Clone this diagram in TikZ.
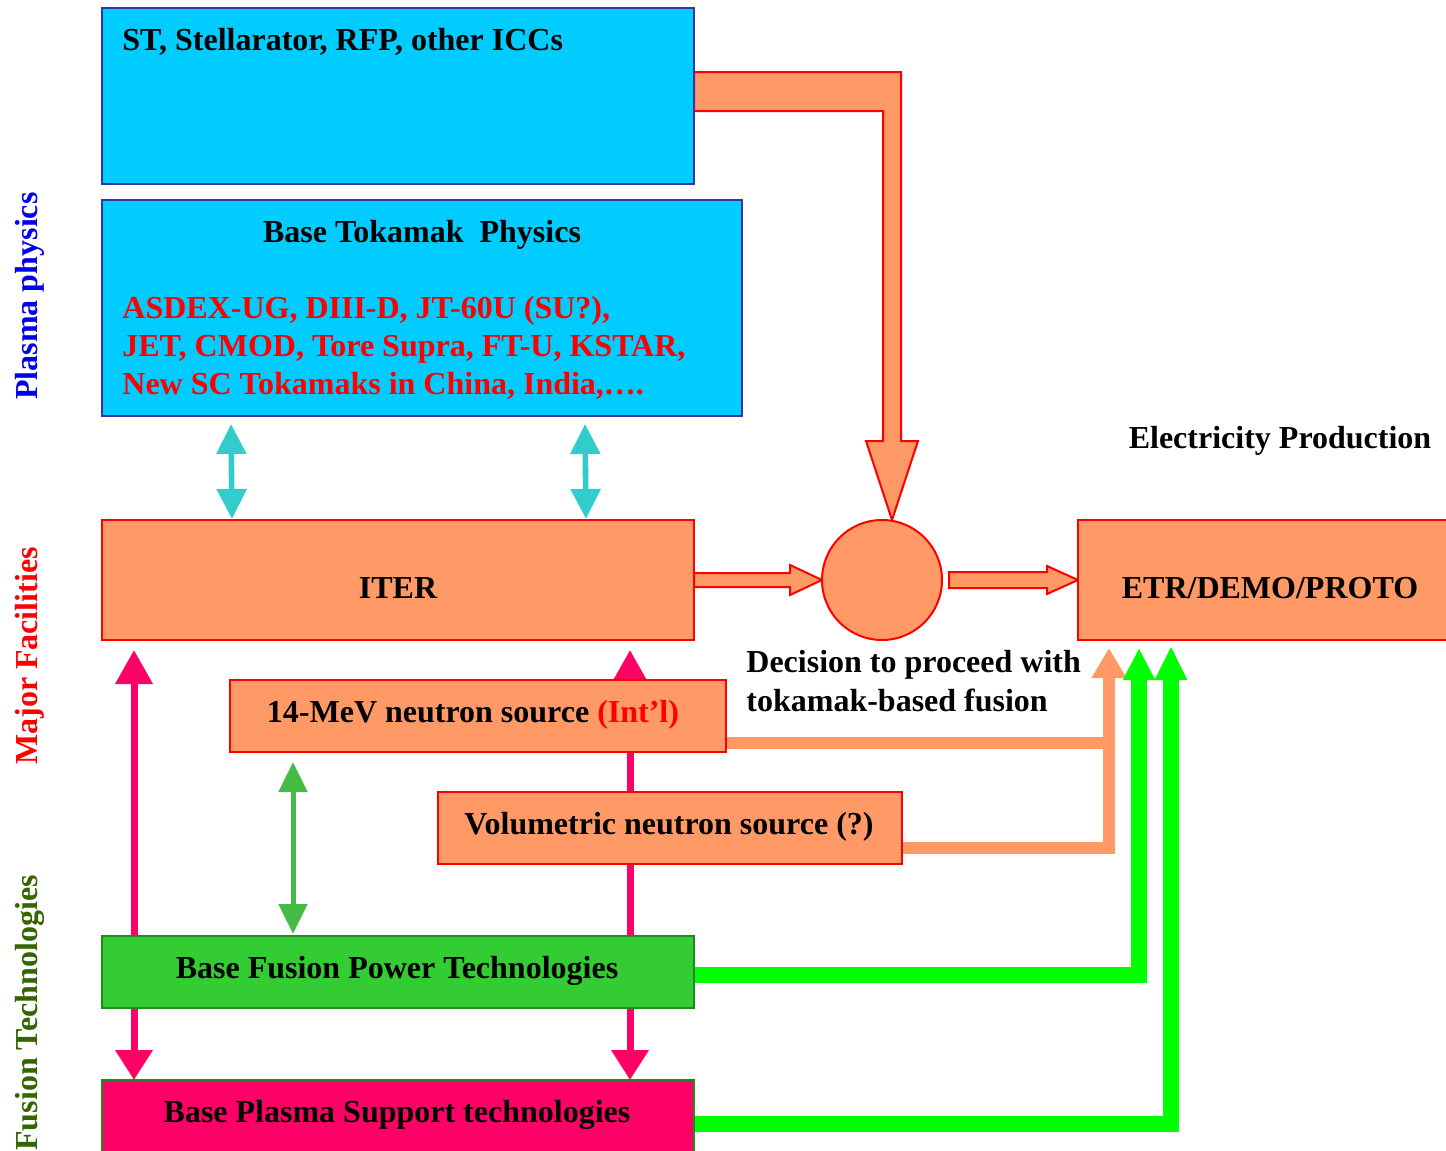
\documentclass[tikz,border=0pt]{standalone}
\usepackage{fontspec}
\setmainfont{Liberation Serif}
\usetikzlibrary{arrows.meta,calc}
\definecolor{cyanbox}{HTML}{00CCFF}
\definecolor{bluebd}{HTML}{3535A8}
\definecolor{orng}{HTML}{FF9966}
\definecolor{fgreen}{HTML}{33CC33}
\definecolor{dgreen}{HTML}{1F8A1F}
\definecolor{pinkc}{HTML}{FF0066}
\definecolor{cyanarr}{HTML}{33CCCC}
\definecolor{garr}{HTML}{44BB44}
\definecolor{lime}{HTML}{00FF00}
\definecolor{olivec}{HTML}{336600}
\definecolor{blueT}{HTML}{0000EE}
\pgfdeclarelayer{bg}
\pgfsetlayers{bg,main}
\begin{document}
\begin{tikzpicture}[x=0.5pt,y=-0.5pt,
  font=\fontsize{16}{19}\selectfont\bfseries,
  cbox/.style={draw=bluebd, fill=cyanbox, line width=1.2pt, inner sep=0pt, outer sep=0pt, anchor=north west},
  obox/.style={draw=red, fill=orng, line width=1pt, inner sep=0pt, outer sep=0pt, anchor=north west},
  gbox/.style={draw=dgreen, fill=fgreen, line width=1pt, inner sep=0pt, outer sep=0pt, anchor=north west},
  pbox/.style={draw=dgreen, fill=pinkc, line width=1pt, inner sep=0pt, outer sep=0pt, anchor=north west},
  txt/.style={inner sep=0pt, anchor=base},
  bigarr/.style={fill=orng, draw=red, line width=1pt, line join=miter},
  pinkarr/.style={draw=pinkc, line width=3.5pt, {Triangle[length=17pt,width=18pt]}-{Triangle[length=15pt,width=18pt]}},
  cyarr/.style={draw=cyanarr, line width=2.8pt, {Triangle[length=15pt,width=14.5pt]}-{Triangle[length=15pt,width=14.5pt]}},
  grarr/.style={draw=garr, line width=2.5pt, {Triangle[length=15pt,width=14pt]}-{Triangle[length=15pt,width=14pt]}},
  orline/.style={draw=orng, line width=6pt, line join=miter},
  gline/.style={draw=lime, line width=8pt, line join=miter},
  side/.style={inner sep=0pt, rotate=90, font=\fontsize{16}{19}\selectfont\bfseries}
]
\useasboundingbox (0,0) rectangle (1446,1151);
\begin{scope}
\clip (0,0) rectangle (1446,1151);
% boxes
\node[cbox, minimum width=296pt, minimum height=88pt] (st) at (102,8) {};
\node[cbox, minimum width=320pt, minimum height=108pt] (tok) at (102,200) {};
\node[obox, minimum width=296pt, minimum height=60pt] (iter) at (102,520) {};
\node[obox, minimum width=190pt, minimum height=60pt] (etr) at (1078,520) {};
\node[circle, draw=red, fill=orng, line width=1pt, minimum size=60pt, inner sep=0pt, outer sep=0pt] (circ) at (882,580) {};
\node[obox, minimum width=248pt, minimum height=36pt] (nms) at (230,680) {};
\node[obox, minimum width=232pt, minimum height=36pt] (vns) at (438,792) {};
\node[gbox, minimum width=296pt, minimum height=36pt] (bfp) at (102,936) {};
\node[pbox, minimum width=296pt, minimum height=40pt] (bps) at (102,1080) {};

% texts
\node[inner sep=0pt, anchor=base west] (sttxt) at (122,50) {ST, Stellarator, RFP, other ICCs};
\node[txt] (toktxt) at (422,242) {Base Tokamak\ \ Physics};
\node[inner sep=0pt, anchor=base west, text=red] (r1) at (122,318) {ASDEX-UG, DIII-D, JT-60U (SU?),};
\node[inner sep=0pt, anchor=base west, text=red] (r2) at (122,356) {JET, CMOD, Tore Supra, FT-U, KSTAR,};
\node[inner sep=0pt, anchor=base west, text=red] (r3) at (122,394) {New SC Tokamaks in China, India,….};
\node[txt] (itertxt) at (398,598) {ITER};
\node[txt] (etrtxt) at (1270,598) {ETR/DEMO/PROTO};
\node[txt] (elec) at (1280,448) {Electricity Production};
\node[inner sep=0pt, anchor=base west] (dec1) at (746,672) {Decision to proceed with};
\node[inner sep=0pt, anchor=base west] (dec2) at (746,711) {tokamak-based fusion};
\node[txt] (nmstxt) at (473,722) {14-MeV neutron source \textcolor{red}{(Int’l)}};
\node[txt] (vnstxt) at (669,834) {Volumetric neutron source (?)};
\node[txt] (bfptxt) at (397,978) {Base Fusion Power Technologies};
\node[txt] (bpstxt) at (397,1122) {Base Plasma Support technologies};

% side labels
\node[side, text=blueT] (lpp) at (30,296) {Plasma physics};
\node[side, text=red] (lmf) at (30,656) {Major Facilities};
\node[side, text=olivec] (lft) at (30,1013) {Fusion Technologies};
\end{scope}

% tips
\coordinate (tipA) at ($(circ.north)+(10,0)$);
\coordinate (otip) at ($(etr.south west)+(31,8)$);
\coordinate (gtip1) at ($(etr.south west)+(61,8)$);
\coordinate (gtip2) at ($(etr.south west)+(93,6)$);

\begin{pgfonlayer}{bg}
% bent arrow from ST box to decision circle
\draw[bigarr] ($(st.north east)+(0,64)$) -- (901,72) -- (901,441) -- (918,441) -- (tipA)
  -- (866,441) -- (883,441) -- (883,111) -- ($(st.north east)+(0,103)$) -- cycle;
% ITER -> circle
\draw[bigarr] ($(iter.east)+(0,-7)$) -- ($(circ.west)+(-32,-7)$) -- ($(circ.west)+(-32,-15)$)
  -- (circ.west) -- ($(circ.west)+(-32,15)$) -- ($(circ.west)+(-32,7)$) -- ($(iter.east)+(0,7)$) -- cycle;
% circle -> ETR
\draw[bigarr] ($(circ.east)+(7,-8)$) -- ($(etr.west)+(-31,-8)$) -- ($(etr.west)+(-31,-14)$)
  -- (etr.west) -- ($(etr.west)+(-31,14)$) -- ($(etr.west)+(-31,8)$) -- ($(circ.east)+(7,8)$) -- cycle;
% cyan double arrows
\draw[cyarr] ($(tok.south west)+(129,8)$) -- ($(iter.north west)+(130,-1)$);
\draw[cyarr] ($(tok.south west)+(483,8)$) -- ($(iter.north west)+(484,-1)$);
% pink double arrows
\draw[pinkarr] ($(iter.south west)+(32,10)$) -- ($(bps.north west)+(32,0)$);
\draw[pinkarr] ($(iter.south west)+(528,10)$) -- ($(bps.north west)+(528,0)$);
% green double arrow
\draw[grarr] ($(nms.south west)+(63,10)$) -- ($(bfp.north west)+(191,-2)$);
% orange lines to ETR
\draw[orline, -{Triangle[length=15pt,width=16.5pt]}] ($(nms.south east)+(0,-9)$) -| (otip);
\draw[orline] ($(vns.east)+(0,20)$) -| ($(otip)+(0,95)$);
% green lines to ETR
\draw[gline, -{Triangle[length=16pt,width=15pt]}] ($(bfp.east)+(0,3)$) -| (gtip1);
\draw[gline, -{Triangle[length=17pt,width=15pt]}] ($(bps.east)+(0,4)$) -| (gtip2);
\end{pgfonlayer}
\end{tikzpicture}
\end{document}
